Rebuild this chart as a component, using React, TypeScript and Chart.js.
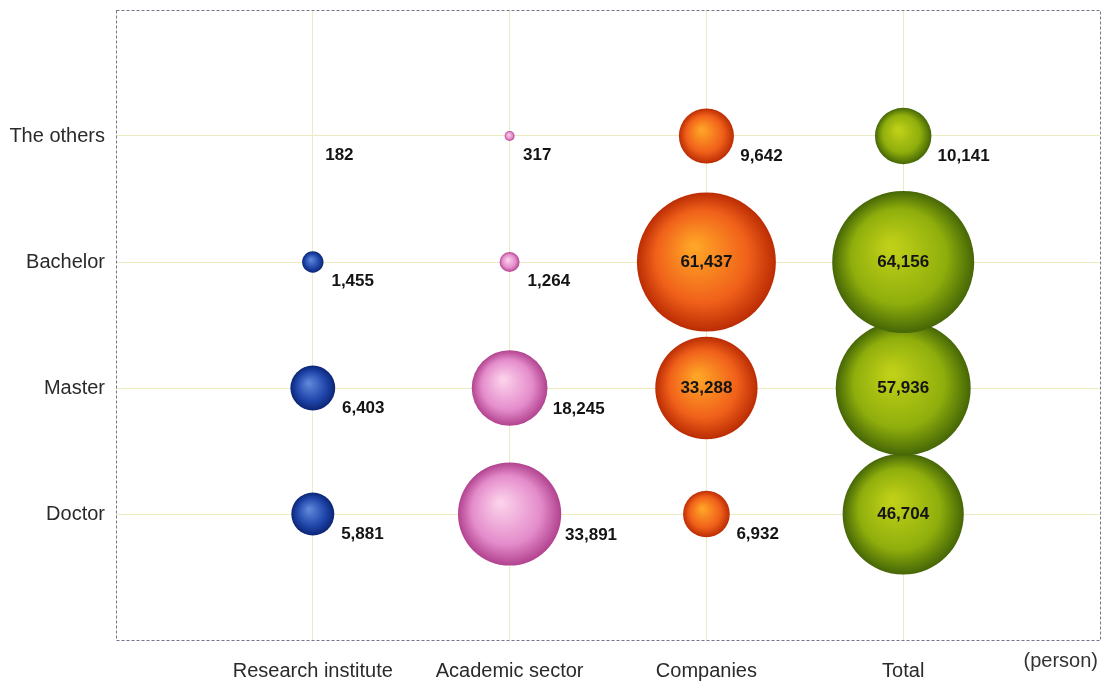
import React, { useEffect, useRef } from "react";
import { Chart, registerables } from "chart.js";

Chart.register(...registerables);

// ---- data ----
const categories = ["Research institute", "Academic sector", "Companies", "Total"];
const degrees = ["Doctor", "Master", "Bachelor", "The others"];
const researchInstitute = [5881, 6403, 1455, 182];
const academicSector = [33891, 18245, 1264, 317];
const companies = [6932, 33288, 61437, 9642];
const total = [46704, 57936, 64156, 10141];
const unitLabel = "(person)";

// label placement (inside bubble or beside it)
const insideLabels = [
  [false, false, false, false],
  [false, false, false, false],
  [false, true, true, false],
  [true, true, true, false],
];

const seriesValues = [researchInstitute, academicSector, companies, total];

// styles
const palettes = [
  ["#5d86d8", "#1f45aa", "#0b2575"], // blue
  ["#fbd0ea", "#e48ccb", "#b2428f"], // pink
  ["#ffa426", "#f0601a", "#bb2c04"], // orange
  ["#c0d018", "#8fae0c", "#456606"], // green
];
const MAX_RADIUS = 71;
const MIN_VISIBLE = 200;
const FONT = "'Liberation Sans', Arial, Helvetica, sans-serif";

const maxValue = Math.max(...seriesValues.flat());
const radiusFor = (v: number) => MAX_RADIUS * Math.sqrt(v / maxValue);

export default function App() {
  const ref = useRef<HTMLCanvasElement>(null);

  useEffect(() => {
    document.body.style.margin = "0";
    document.body.style.overflow = "hidden";
    const canvas = ref.current;
    if (!canvas) return;

    const datasets = seriesValues.map((vals, si) => ({
      label: categories[si],
      data: vals.map((v, di) => ({
        x: si + 1,
        y: di + 1,
        r: v < MIN_VISIBLE ? 0 : radiusFor(v),
        v,
      })),
      borderWidth: 0,
      backgroundColor: (c: any) => {
        const chart = c.chart;
        const pal = palettes[si];
        if (!chart.chartArea || c.type !== "data" || !c.raw) return pal[1];
        const raw = c.raw;
        const x = chart.scales.x.getPixelForValue(raw.x);
        const y = chart.scales.y.getPixelForValue(raw.y);
        const r = Math.max(raw.r, 1);
        const g = chart.ctx.createRadialGradient(
          x - r * 0.18,
          y - r * 0.22,
          r * 0.05,
          x,
          y,
          r
        );
        g.addColorStop(0, pal[0]);
        g.addColorStop(0.65, pal[1]);
        g.addColorStop(1, pal[2]);
        return g;
      },
    }));

    const framePlugin = {
      id: "frame",
      beforeDatasetsDraw(chart: any) {
        const { ctx, chartArea: a } = chart;
        ctx.save();
        ctx.strokeStyle = "#74748a";
        ctx.lineWidth = 1;
        ctx.setLineDash([3, 2]);
        ctx.strokeRect(a.left + 0.5, a.top + 0.5, a.right - a.left, a.bottom - a.top);
        ctx.restore();
      },
    };

    const labelPlugin = {
      id: "valueLabels",
      afterDatasetsDraw(chart: any) {
        const { ctx, chartArea: a } = chart;
        ctx.save();
        ctx.font = `bold 17px ${FONT}`;
        ctx.fillStyle = "#141414";
        chart.data.datasets.forEach((ds: any, si: number) => {
          const meta = chart.getDatasetMeta(si);
          meta.data.forEach((el: any, di: number) => {
            const v = ds.data[di].v;
            const r = radiusFor(v);
            const text = v.toLocaleString("en-US");
            if (insideLabels[si][di]) {
              ctx.textAlign = "center";
              ctx.textBaseline = "middle";
              ctx.fillText(text, el.x, el.y);
            } else {
              ctx.textAlign = "left";
              ctx.textBaseline = "middle";
              ctx.fillText(text, el.x + r * 0.9 + 9, el.y + 19 + r * 0.05);
            }
          });
        });
        ctx.font = `20px ${FONT}`;
        ctx.fillStyle = "#333";
        ctx.textAlign = "right";
        ctx.textBaseline = "middle";
        ctx.fillText(unitLabel, a.right - 2, a.bottom + 21);
        ctx.restore();
      },
    };

    const gridColor = (c: any) =>
      c.tick && c.tick.value >= 1 && c.tick.value <= 4 ? "#ececc0" : "rgba(0,0,0,0)";

    const chart = new Chart(canvas, {
      type: "bubble",
      data: { datasets: datasets as any },
      options: {
        responsive: false,
        animation: false,
        events: [],
        layout: { autoPadding: false, padding: { top: 10, right: 10, left: 0, bottom: 0 } },
        plugins: {
          legend: { display: false },
          tooltip: { enabled: false },
        },
        scales: {
          x: {
            type: "linear",
            min: 0,
            max: 5,
            afterFit: (s: any) => {
              s.height = 43;
              s.paddingLeft = 0;
              s.paddingRight = 0;
            },
            ticks: {
              stepSize: 1,
              padding: 19,
              color: "#2a2a2a",
              font: { family: FONT, size: 20 },
              maxRotation: 0,
              autoSkip: false,
              callback: (v: any) => categories[Number(v) - 1] ?? "",
            },
            grid: { color: gridColor, drawTicks: false, lineWidth: 1 },
            border: { display: false },
          },
          y: {
            type: "linear",
            min: 0,
            max: 5,
            afterFit: (s: any) => {
              s.width = 116;
              s.paddingTop = 0;
              s.paddingBottom = 0;
            },
            ticks: {
              stepSize: 1,
              padding: 11,
              color: "#2a2a2a",
              font: { family: FONT, size: 20 },
              autoSkip: false,
              callback: (v: any) => degrees[Number(v) - 1] ?? "",
            },
            grid: { color: gridColor, drawTicks: false, lineWidth: 1 },
            border: { display: false },
          },
        },
      },
      plugins: [framePlugin, labelPlugin],
    });

    return () => chart.destroy();
  }, []);

  return <canvas ref={ref} width={1110} height={683} />;
}
